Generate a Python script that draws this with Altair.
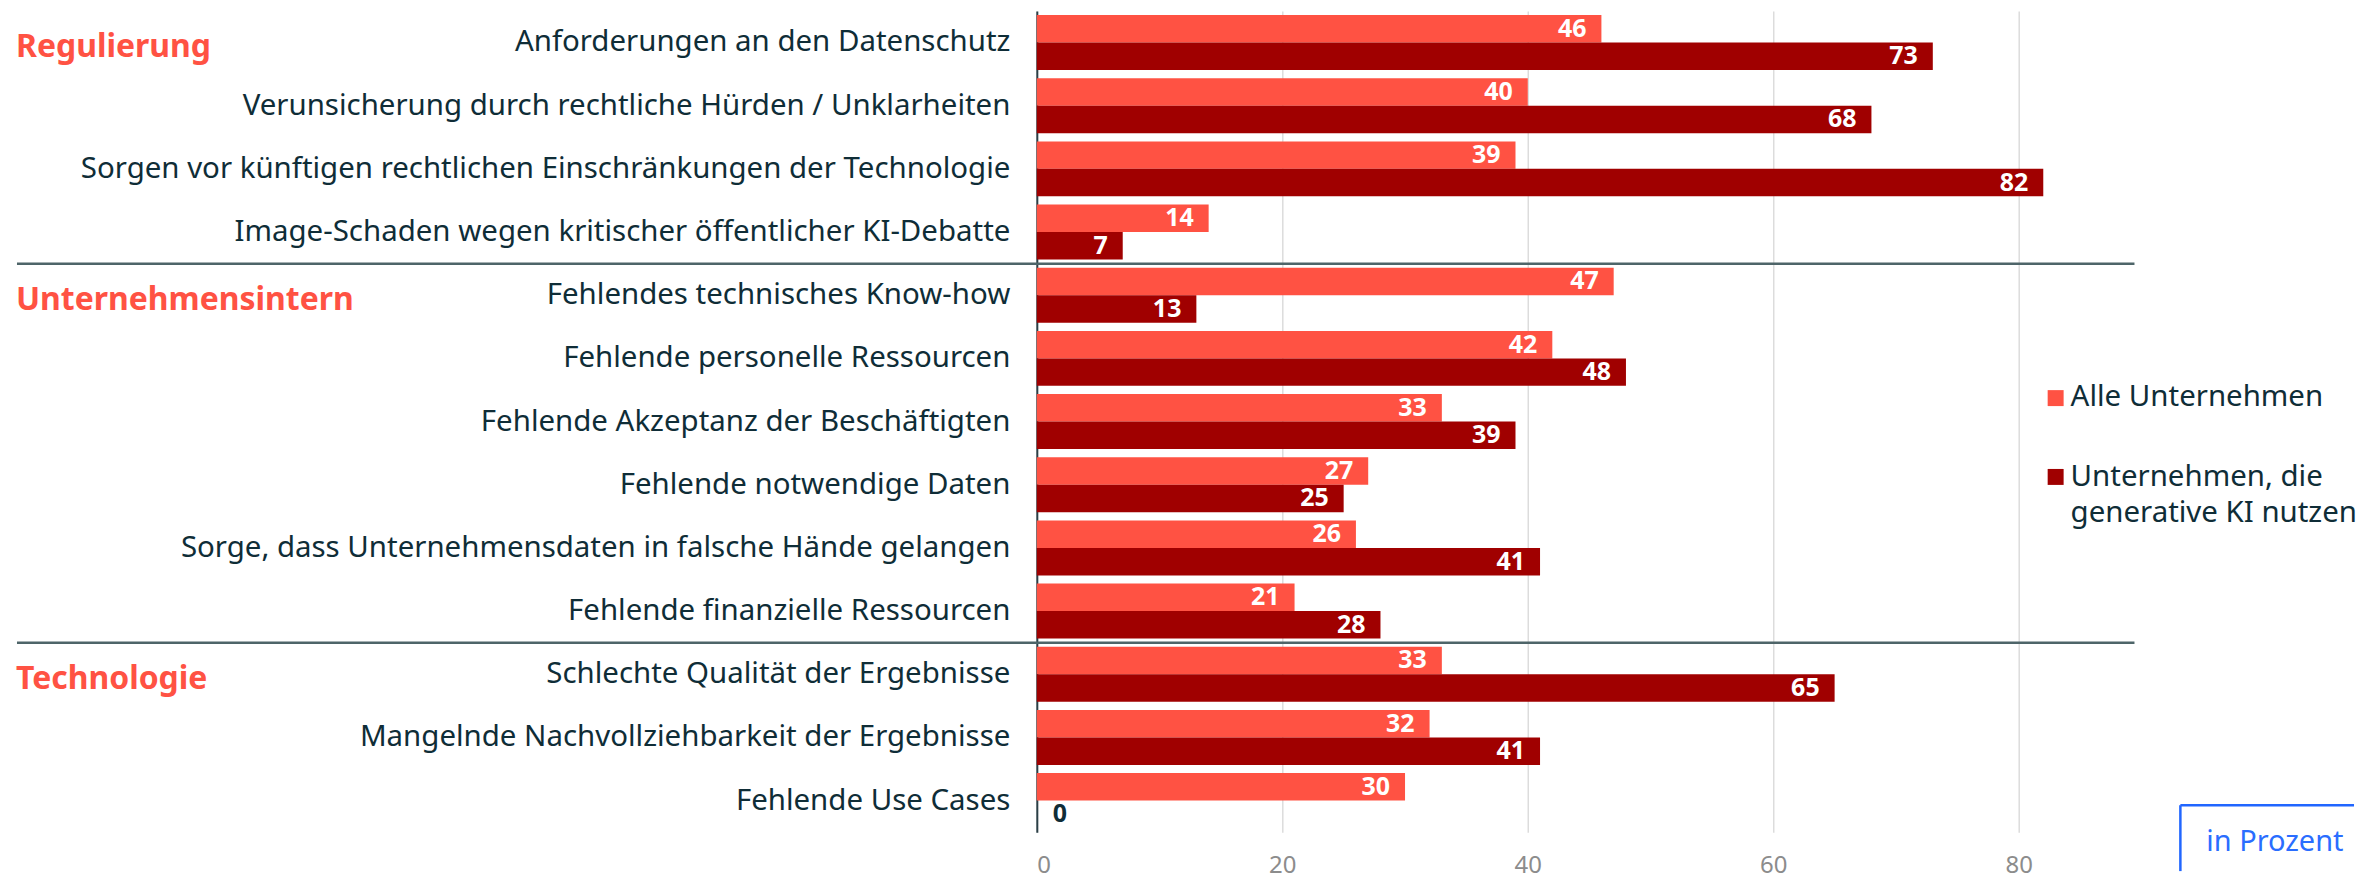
import altair as alt
import pandas as pd

categories = [
    "Anforderungen an den Datenschutz",
    "Verunsicherung durch rechtliche Hürden / Unklarheiten",
    "Sorgen vor künftigen rechtlichen Einschränkungen der Technologie",
    "Image-Schaden wegen kritischer öffentlicher KI-Debatte",
    "Fehlendes technisches Know-how",
    "Fehlende personelle Ressourcen",
    "Fehlende Akzeptanz der Beschäftigten",
    "Fehlende notwendige Daten",
    "Sorge, dass Unternehmensdaten in falsche Hände gelangen",
    "Fehlende finanzielle Ressourcen",
    "Schlechte Qualität der Ergebnisse",
    "Mangelnde Nachvollziehbarkeit der Ergebnisse",
    "Fehlende Use Cases",
]
alle = [46, 40, 39, 14, 47, 42, 33, 27, 26, 21, 33, 32, 30]
genki = [73, 68, 82, 7, 13, 48, 39, 25, 41, 28, 65, 41, 0]
series = ["Alle Unternehmen", "Unternehmen, die generative KI nutzen"]
legend_lines_2 = ["Unternehmen, die", "generative KI nutzen"]
group_names = ["Regulierung", "Unternehmensintern", "Technologie"]
group_first = [categories[0], categories[4], categories[10]]
separator_before = [categories[4], categories[10]]
x_ticks = [0, 20, 40, 60, 80]
unit_note = "in Prozent"

LIGHT = "#ff5243"
DARK = "#a00000"
TXT = "#0f2d37"
FONT = "Noto Sans"

rows = []
for c, a, b in zip(categories, alle, genki):
    rows.append({"cat": c, "series": series[0], "value": a})
    rows.append({"cat": c, "series": series[1], "value": b})
df = pd.DataFrame(rows)

W, H = 1107, 823
yscale = alt.Scale(domain=categories, paddingInner=0.13, paddingOuter=0.065)
xscale = alt.Scale(domain=[0, 90], nice=False)
oscale = alt.Scale(domain=series, paddingInner=0, paddingOuter=0)
cscale = alt.Scale(domain=series, range=[LIGHT, DARK])

xaxis = alt.Axis(values=x_ticks, grid=True, domain=False, ticks=False, tickSize=0,
                 labelFontSize=24, labelColor="#8c8c8c", labelPadding=21,
                 labelFont=FONT, gridColor="#dcdcdc", gridWidth=1.5, title=None)
yaxis = alt.Axis(title=None, ticks=False, tickSize=0, domainColor="#2b3f46", domainWidth=2,
                 labelFontSize=29.5, labelColor=TXT, labelPadding=27, labelLimit=1200,
                 labelFont=FONT)

base = alt.Chart(df)
bars = base.mark_bar().encode(
    x=alt.X("value:Q", scale=xscale, axis=xaxis),
    y=alt.Y("cat:N", scale=yscale, axis=yaxis),
    yOffset=alt.YOffset("series:N", scale=oscale),
    color=alt.Color("series:N", scale=cscale, legend=None),
)

labels = base.transform_filter("datum.value > 0").mark_text(
    align="right", baseline="middle", dx=-15, font=FONT, fontSize=25,
    fontWeight="bold", color="white"
).encode(
    x=alt.X("value:Q", scale=xscale),
    y=alt.Y("cat:N", scale=yscale),
    yOffset=alt.YOffset("series:N", scale=oscale),
    text="value:Q",
)

zero_labels = base.transform_filter("datum.value == 0").mark_text(
    align="left", baseline="middle", dx=16, font=FONT, fontSize=25,
    fontWeight="bold", color=TXT
).encode(
    x=alt.X("value:Q", scale=xscale),
    y=alt.Y("cat:N", scale=yscale),
    yOffset=alt.YOffset("series:N", scale=oscale),
    text="value:Q",
)

gdf = pd.DataFrame({"cat": group_first, "group": group_names})
glabels = alt.Chart(gdf).mark_text(
    align="left", baseline="middle", dy=5, font=FONT, fontSize=32,
    fontWeight="bold", color=LIGHT
).encode(
    x=alt.value(-1023),
    y=alt.Y("cat:N", scale=yscale),
    text="group:N",
)

sdf = pd.DataFrame({"cat": separator_before})
seps = alt.Chart(sdf).mark_rule(color="#4e6569", strokeWidth=2.5, yOffset=-4).encode(
    x=alt.value(-1022),
    x2=alt.value(1100),
    y=alt.Y("cat:N", scale=yscale, bandPosition=0),
)

# legend (manual)
l1df = pd.DataFrame({"series": [series[0]]})
l2df = pd.DataFrame({"series": [series[1]]})
sq1 = alt.Chart(l1df).mark_square(size=256, opacity=1, filled=True).encode(
    x=alt.value(1021), y=alt.value(388),
    color=alt.Color("series:N", scale=cscale, legend=None))
sq2 = alt.Chart(l2df).mark_square(size=256, opacity=1, filled=True).encode(
    x=alt.value(1021), y=alt.value(467),
    color=alt.Color("series:N", scale=cscale, legend=None))
lt1 = alt.Chart(l1df).mark_text(align="left", baseline="middle", font=FONT,
                                fontSize=29.5, color=TXT).encode(
    x=alt.value(1036), y=alt.value(387), text="series:N")
lt2a = alt.Chart(l2df).mark_text(align="left", baseline="middle", font=FONT,
                                 fontSize=29.5, color=TXT).encode(
    x=alt.value(1036), y=alt.value(467), text=alt.value(legend_lines_2[0]))
lt2b = alt.Chart(l2df).mark_text(align="left", baseline="middle", font=FONT,
                                 fontSize=29.5, color=TXT).encode(
    x=alt.value(1036), y=alt.value(503), text=alt.value(legend_lines_2[1]))

# "in Prozent" box
ndf = pd.DataFrame({"t": [unit_note]})
box_top = alt.Chart(ndf).mark_rule(color="#2166ff", strokeWidth=2.5).encode(
    x=alt.value(1146), x2=alt.value(1320), y=alt.value(796))
box_left = alt.Chart(ndf).mark_rule(color="#2166ff", strokeWidth=2.5).encode(
    x=alt.value(1146), y=alt.value(796), y2=alt.value(862))
note = alt.Chart(ndf).mark_text(align="left", baseline="middle", font=FONT,
                                fontSize=29, color="#2a6dff").encode(
    x=alt.value(1172), y=alt.value(833), text="t:N")

chart = alt.layer(
    bars, labels, zero_labels, glabels, seps,
    sq1, sq2, lt1, lt2a, lt2b, box_top, box_left, note
).properties(
    width=W, height=H,
    padding={"left": 7, "top": 2, "right": 0, "bottom": 6},
).configure_view(stroke=None).configure_axis(zindex=1)

chart.save("out.html", embed_options={"renderer": "svg", "actions": False})
